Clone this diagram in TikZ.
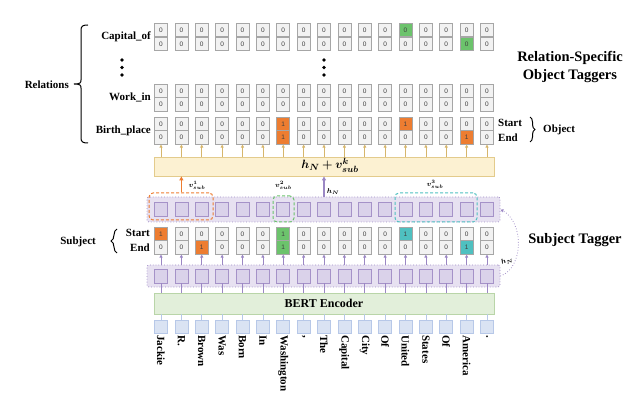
\documentclass[tikz,border=0pt]{standalone}
\usepackage{fontspec}
\setmainfont{Liberation Serif}
\newfontfamily\dfont{Liberation Sans}
\usepackage{amsmath,bm}
\usetikzlibrary{decorations.pathreplacing,arrows.meta}
\definecolor{cellfill}{HTML}{F2F2F2}
\definecolor{celldraw}{HTML}{A6A6A6}
\definecolor{orng}{HTML}{ED7D31}
\definecolor{grn}{HTML}{6CC36C}
\definecolor{cyn}{HTML}{4FC0C0}
\definecolor{layerfill}{HTML}{E7E1F1}
\definecolor{layerdraw}{HTML}{A08DC6}
\definecolor{sqfill}{HTML}{DAD2EA}
\definecolor{sqdraw}{HTML}{A592C8}
\definecolor{yfill}{HTML}{FCF1D2}
\definecolor{ydraw}{HTML}{E3CB8C}
\definecolor{yarr}{HTML}{D6B66C}
\definecolor{bertfill}{HTML}{E2EFDA}
\definecolor{bertdraw}{HTML}{B9D5A8}
\definecolor{wordfill}{HTML}{DAE3F3}
\definecolor{worddraw}{HTML}{B7C8E8}
\definecolor{parr}{HTML}{9B87C4}
\definecolor{txtgray}{HTML}{404040}
\newcommand\setcell[4]{\expandafter\gdef\csname cf:#1:#2\endcsname{#3}\expandafter\gdef\csname cv:#1:#2\endcsname{#4}}
\setcell{cap-s}{12}{grn}{0}
\setcell{cap-e}{15}{grn}{0}
\setcell{bp-s}{6}{orng}{1}\setcell{bp-s}{12}{orng}{1}
\setcell{bp-e}{6}{orng}{1}\setcell{bp-e}{15}{orng}{1}
\setcell{sj-s}{0}{orng}{1}\setcell{sj-s}{6}{grn}{1}\setcell{sj-s}{12}{cyn}{1}
\setcell{sj-e}{2}{orng}{1}\setcell{sj-e}{6}{grn}{1}\setcell{sj-e}{15}{cyn}{1}
\newcommand\tagrow[2]{%
 \foreach \i in {0,...,16}{%
   \ifcsname cf:#1:\i\endcsname
     \edef\cf{\csname cf:#1:\i\endcsname}\edef\cv{\csname cv:#1:\i\endcsname}%
   \else\def\cf{cellfill}\def\cv{0}\fi
   \node[cell,fill=\cf] (#1-\i) at ({161+20.375*\i},#2) {\cv};
 }}
\tikzset{
 cell/.style={draw=celldraw,line width=0.6pt,minimum width=13pt,minimum height=13.5pt,inner sep=0pt,text=txtgray,font=\dfont\fontsize{6.5}{7}\selectfont},
 layer/.style={draw=layerdraw,fill=layerfill,dotted,line width=0.8pt,rounded corners=2pt,inner sep=0pt},
 sq/.style={draw=sqdraw,fill=sqfill,line width=0.6pt,minimum width=13pt,minimum height=14pt,inner sep=0pt},
 dbox/.style={dashed,line width=1pt,rounded corners=4pt,inner sep=0pt,dash pattern=on 3pt off 2pt},
 lab/.style={font=\bfseries\fontsize{11}{12}\selectfont,inner sep=0pt},
 big/.style={font=\bfseries\fontsize{14.5}{18}\selectfont,inner sep=0pt,align=center},
 tiny/.style={font=\fontsize{7}{8}\selectfont,inner sep=0pt},
 wordtxt/.style={font=\bfseries\fontsize{11}{12}\selectfont,inner sep=0pt,rotate=-90,anchor=west},
 yarrow/.style={draw=yarr,line width=0.7pt,-{Triangle[length=3pt,width=3pt]}},
 parrow/.style={draw=parr,line width=0.7pt,-{Triangle[length=3pt,width=3pt]}},
 brc/.style={decorate,decoration={brace,amplitude=#1},line width=1pt},
 bracket/.style={line width=1pt},
 dotn/.style={circle,fill=black,inner sep=0pt,minimum size=3.6pt},
}
\begin{document}
\begin{tikzpicture}[x=1pt,y=-1pt]
\useasboundingbox (0,0) rectangle (634,403);
% object taggers
\tagrow{cap-s}{30}\tagrow{cap-e}{44}
\tagrow{wk-s}{91}\tagrow{wk-e}{104.5}
\tagrow{bp-s}{124}\tagrow{bp-e}{137.5}
\node[dotn] (d1) at (122,60) {};\node[dotn] (d2) at (122,67.5) {};\node[dotn] (d3) at (122,75) {};
\node[dotn] (d4) at (324,60) {};\node[dotn] (d5) at (324,67.5) {};\node[dotn] (d6) at (324,75) {};
\node[lab,anchor=east] (lcap) at (151,37) {Capital\_of};
\node[lab,anchor=east] (lwk) at (151,97.5) {Work\_in};
\node[lab,anchor=east] (lbp) at (151,130.5) {Birth\_place};
\draw[bracket] (88,25) .. controls (83,25) and (81,26) .. (81,30) -- (81,80)
  .. controls (81,83) and (80,84) .. (74,84) .. controls (80,84) and (81,85) .. (81,88)
  -- (81,138) .. controls (81,142) and (83,143) .. (88,143);
\node[lab,anchor=east] (lrel) at (69,85) {Relations};
\node[lab,anchor=west] (ost) at (498,123) {Start};
\node[lab,anchor=west] (oen) at (498,137.5) {End};
\draw[brc=5pt] (530,117) -- (530,142);
\node[lab,anchor=west] (lobj) at (543,129.5) {Object};
\node[big] (rso) at (570,67) {Relation-Specific\\Object Taggers};
% yellow box
\node[draw=ydraw,fill=yfill,line width=0.8pt,minimum width=340pt,minimum height=19pt,inner sep=0pt] (yel) at (324,166.5) {};
\node[inner sep=0pt,font=\fontsize{13}{15}\selectfont] (ylab) at (330,165.5) {$\bm{h_N + v^k_{sub}}$};
\foreach \i in {0,...,16}{\draw[yarrow] (yel.north -| bp-e-\i) -- (bp-e-\i.south);}
% upper layer
\node[layer,minimum width=353pt,minimum height=25pt] (up) at (323.5,209.5) {};
\foreach \i in {0,...,16}{\node[sq] (u-\i) at ({161+20.375*\i},209.5) {};}
\node[dbox,draw=orng,minimum width=64pt,minimum height=27pt] (ob) at (181,206.5) {};
\node[dbox,draw=grn,minimum width=21pt,minimum height=26pt] (gb) at (283.5,209) {};
\node[dbox,draw=cyn,minimum width=82pt,minimum height=29pt] (cb) at (436,207.5) {};
\draw[draw=orng,line width=1.1pt,-{Triangle[length=4pt,width=4pt]}] (ob.north -| u-1) -- (yel.south -| u-1);
\draw[draw=parr,line width=1.1pt,-{Triangle[length=4pt,width=4pt]}] (up.north -| u-8) -- (yel.south -| u-8);
\node[tiny] (v1) at (197,185.5) {$\bm{v^1_{sub}}$};
\node[tiny] (v2) at (283.5,185) {$\bm{v^2_{sub}}$};
\node[tiny] (v3) at (435,184.5) {$\bm{v^3_{sub}}$};
\node[tiny] (hn1) at (333,191.5) {$\bm{h_N}$};
% subject tagger
\tagrow{sj-s}{234}\tagrow{sj-e}{247.5}
\node[lab,anchor=east] (sst) at (150,233) {Start};
\node[lab,anchor=east] (sen) at (150,248) {End};
\draw[brc=6pt] (117,253) -- (117,229);
\node[lab,anchor=east] (lsub) at (96,242) {Subject};
\node[big] (stg) at (575,240) {Subject Tagger};
% lower layer
\node[layer,minimum width=353pt,minimum height=22pt] (lo) at (323.5,276) {};
\foreach \i in {0,...,16}{\node[sq] (l-\i) at ({161+20.375*\i},276) {};}
\foreach \i in {0,...,16}{\draw[parrow] (lo.north -| l-\i) -- (sj-e-\i.south);}
\draw[parrow,dotted,line width=0.8pt] (lo.east) .. controls (524,268) and (524,222) .. (up.east);
\node[tiny,rotate=20] (hn2) at (507,261) {$\bm{h_N}$};
% BERT
\node[draw=bertdraw,fill=bertfill,line width=0.8pt,minimum width=340pt,minimum height=21pt,inner sep=0pt,font=\bfseries\fontsize{12}{14}\selectfont] (bert) at (324,303.5) {BERT Encoder};
\foreach \i in {0,...,16}{\draw[draw=parr,line width=0.7pt] (l-\i.south) -- (bert.north -| l-\i);}
\foreach \i in {0,...,16}{\node[draw=worddraw,fill=wordfill,line width=0.6pt,minimum width=13pt,minimum height=13pt,inner sep=0pt] (w-\i) at ({161+20.375*\i},326.5) {};
  \draw[draw=worddraw,line width=0.7pt] (bert.south -| w-\i) -- (w-\i.north);}
\foreach \w [count=\j from 0] in {Jackie,R.,Brown,Was,Born,In,Washington,{,},The,Capital,City,Of,United,States,Of,America,.}{
  \node[wordtxt] (t-\j) at ({161+20.375*\j},335) {\w};}
\end{tikzpicture}
\end{document}
